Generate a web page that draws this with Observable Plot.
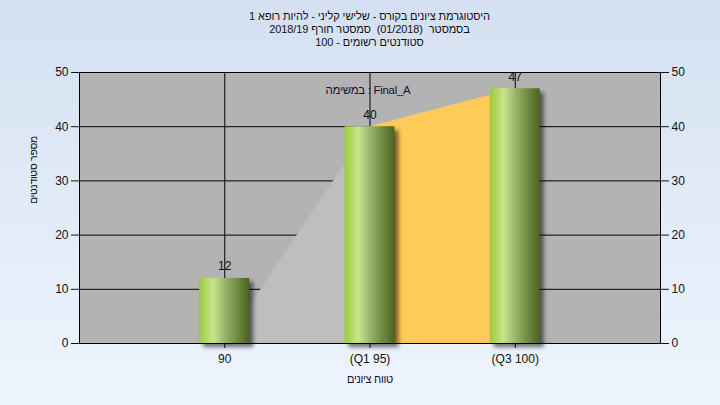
<!DOCTYPE html>
<html><head><meta charset="utf-8">
<script src="https://cdn.jsdelivr.net/npm/d3@7"></script>
<script src="https://cdn.jsdelivr.net/npm/@observablehq/plot@0.6"></script>
<style>
html,body{margin:0;padding:0;}
#wrap{width:720px;height:405px;position:relative;background:linear-gradient(to bottom,#d4e0f1,#eef5fe);font-family:"Liberation Sans",Arial,sans-serif;overflow:hidden;}
#title{position:absolute;left:79px;width:581px;top:10px;text-align:center;font-size:11px;line-height:13px;color:#111;white-space:pre;letter-spacing:-0.1px;}
#chart{position:absolute;left:0;top:56px;}
</style></head>
<body><div id="wrap"><div id="title" dir="rtl"></div><div id="chart"></div></div>
<script>
const titleLines = [
  "היסטוגרמת ציונים בקורס - שלישי קליני - להיות רופא 1",
  "בסמסטר  (01/2018)  סמסטר חורף 2018/19",
  "סטודנטים רשומים - 100"
];
const categories = ["90", "(Q1 95)", "(Q3 100)"];
const counts = [12, 40, 47];
const trendValues = [0, 40, 47];
const trendColors = ["#bebebe", "#fecb5a"];
const yTicks = [0, 10, 20, 30, 40, 50];
const legendText = "במשימה : Final_A";
const xTitle = "טווח ציונים";
const yTitle = "מספר סטודנטים";

document.getElementById("title").innerHTML = titleLines.map(t => `<div>${t}</div>`).join("");

const xs = categories.map((c, i) => i + 1);
const half = 0.172;
const segs = [];
for (let i = 0; i < trendValues.length - 1; i++) {
  segs.push(Plot.areaY([{x: xs[i], y: trendValues[i]}, {x: xs[i + 1], y: trendValues[i + 1]}], {x: "x", y: "y", fill: trendColors[i]}));
}

const svg = Plot.plot({
  width: 720,
  height: 349,
  marginTop: 16,
  marginBottom: 62,
  marginLeft: 79,
  marginRight: 60,
  style: {background: "transparent", fontSize: "12px", fontFamily: "'Liberation Sans', Arial, sans-serif", color: "#111"},
  x: {domain: [0, categories.length + 1], ticks: xs, tickFormat: d => categories[d - 1], tickSize: 5, tickPadding: 6, label: null},
  y: {domain: [0, 50], ticks: yTicks, tickSize: 8, tickPadding: 3, label: null, axis: "both"},
  marks: [
    Plot.frame({fill: "#b3b3b3", stroke: null}),
    Plot.ruleY(yTicks.filter(v => v > 0), {stroke: "black", strokeOpacity: 1}),
    Plot.ruleX(xs, {stroke: "black", strokeOpacity: 1}),
    ...segs,
    Plot.rectY(counts, {x1: (d, i) => xs[i] - half, x2: (d, i) => xs[i] + half, y: d => d, fill: "url(#barGrad)"}),
    Plot.text(counts, {x: (d, i) => xs[i], y: d => d, text: d => String(d), dy: -12, fill: "#111", clip: true}),
    Plot.text([legendText], {frameAnchor: "top", dy: 13, dx: -2, fill: "#1a1030", fontSize: 11.5}),
    Plot.text([xTitle], {frameAnchor: "bottom", dy: 39, fill: "#1a1030", fontSize: 11}),
    Plot.text([yTitle], {frameAnchor: "left", dx: -46, dy: -4, rotate: -90, fill: "#111", fontSize: 10.5}),
    Plot.frame({stroke: "black", strokeOpacity: 1})
  ]
});
document.getElementById("chart").appendChild(svg);

const defs = d3.select(svg).insert("defs", ":first-child");
const g = defs.append("linearGradient").attr("id", "barGrad").attr("x1", "0").attr("x2", "1").attr("y1", "0").attr("y2", "0");
[["0%", "#9bcb38"], ["28%", "#c8e48e"], ["55%", "#93ad62"], ["100%", "#4a6320"]].forEach(([o, c]) => g.append("stop").attr("offset", o).attr("stop-color", c));
const barG = svg.querySelector('g[aria-label="rect"]');
if (barG) barG.style.filter = "drop-shadow(4px 4px 2px rgba(0,0,0,0.55))";
svg.querySelectorAll("text").forEach(t => {
  if (/[\u0590-\u05FF]/.test(t.textContent)) t.style.letterSpacing = "-0.3px";
});
</script>
</body></html>
